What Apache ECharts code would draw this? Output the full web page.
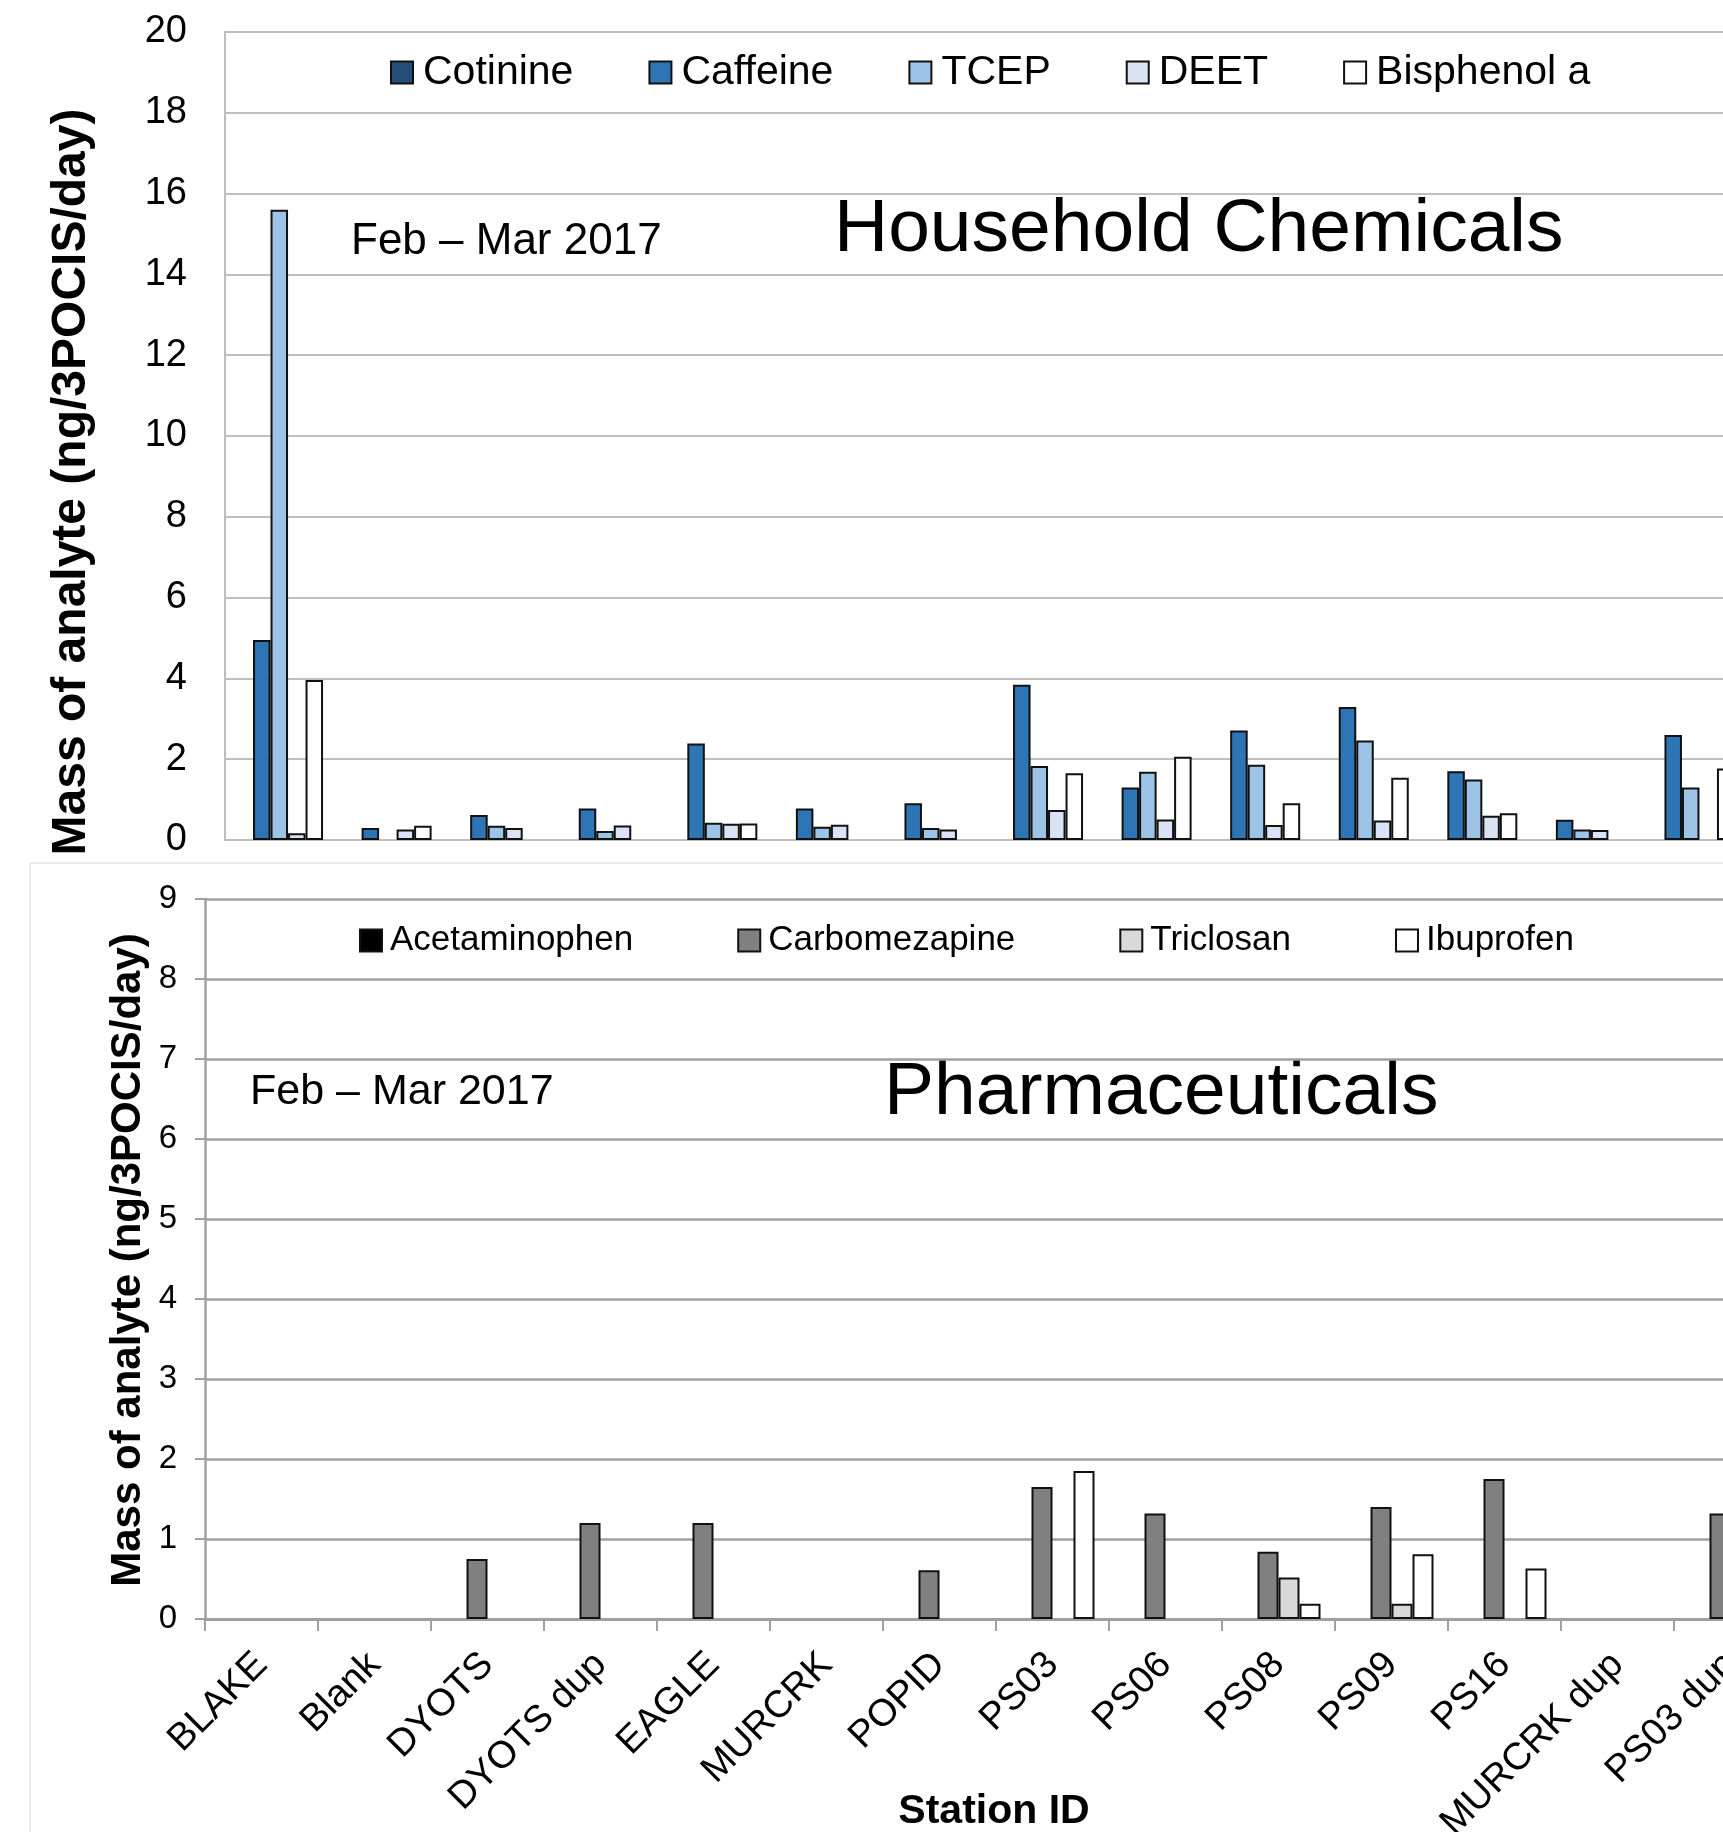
<!DOCTYPE html>
<html>
<head>
<meta charset="utf-8">
<title>Household Chemicals and Pharmaceuticals</title>
<script src="https://cdn.jsdelivr.net/npm/echarts@6/dist/echarts.min.js"></script>
<style>
  html, body { margin: 0; padding: 0; background: #ffffff; overflow: hidden; }
  #frame { width: 1723px; height: 1832px; overflow: hidden; position: relative; }
  #chart { width: 1800px; height: 1832px; position: absolute; left: 0; top: 0; }
</style>
</head>
<body>
<div id="frame"><div id="chart"></div></div>
<script>
// Station IDs (shared by both panels)
const categories = ['BLAKE', 'Blank', 'DYOTS', 'DYOTS dup', 'EAGLE', 'MURCRK', 'POPID',
  'PS03', 'PS06', 'PS08', 'PS09', 'PS16', 'MURCRK dup', 'PS03 dup'];

// Household chemicals, ng/3POCIS/day (null = not detected)
const cotinine   = [null, null, null, null, null, null, null, null, null, null, null, null, null, null];
const caffeine   = [4.95, 0.30, 0.62, 0.78, 2.39, 0.78, 0.91, 3.84, 1.30, 2.71, 3.29, 1.70, 0.50, 2.60];
const tcep       = [15.6, null, 0.35, 0.22, 0.43, 0.33, 0.30, 1.83, 1.69, 1.86, 2.46, 1.50, 0.26, 1.30];
const deet       = [0.17, 0.26, 0.30, 0.36, 0.40, 0.38, 0.26, 0.74, 0.51, 0.37, 0.48, 0.60, 0.25, null];
const bisphenolA = [3.96, 0.35, null, null, 0.41, null, null, 1.65, 2.06, 0.91, 1.54, 0.66, null, 1.77];

// Pharmaceuticals, ng/3POCIS/day (null = not detected)
const acetaminophen = [null, null, null, null, null, null, null, null, null, null, null, null, null, null];
const carbomezapine = [null, null, 0.75, 1.20, 1.20, null, 0.61, 1.65, 1.32, 0.84, 1.40, 1.75, null, 1.32];
const triclosan     = [null, null, null, null, null, null, null, null, null, 0.52, 0.19, null, null, null];
const ibuprofen     = [null, null, null, null, null, null, null, 1.85, null, 0.19, 0.81, 0.63, null, null];

// Axis tick values
const householdTicks = [0, 2, 4, 6, 8, 10, 12, 14, 16, 18, 20];
const pharmaTicks = [0, 1, 2, 3, 4, 5, 6, 7, 8, 9];

const FONT = '"Liberation Sans", Arial, Helvetica, sans-serif';

const chart = echarts.init(document.getElementById('chart'), null, { renderer: 'canvas' });

function barSeries(name, data, color, gridIdx, width) {
  return {
    name: name,
    type: 'bar',
    xAxisIndex: gridIdx,
    yAxisIndex: gridIdx,
    data: data,
    barWidth: width,
    barGap: '0%',
    itemStyle: { color: color, borderColor: '#111111', borderWidth: 2 },
    emphasis: { disabled: true },
    animation: false
  };
}

const option = {
  backgroundColor: '#ffffff',
  animation: false,
  legend: [
    {
      data: ['Cotinine', 'Caffeine', 'TCEP', 'DEET', 'Bisphenol a'],
      left: 390, top: 52, padding: 0,
      itemWidth: 22, itemHeight: 22, itemGap: 75, icon: 'rect',
      textStyle: { fontFamily: FONT, fontSize: 41, color: '#000', padding: [0, 0, 0, 5] },
      selectedMode: false
    },
    {
      data: ['Acetaminophen', 'Carbomezapine', 'Triclosan', 'Ibuprofen'],
      left: 359, top: 923, padding: 0,
      itemWidth: 22, itemHeight: 22, itemGap: 104, icon: 'rect',
      textStyle: { fontFamily: FONT, fontSize: 35, color: '#000', padding: [0, 0, 0, 3] },
      selectedMode: false
    }
  ],
  grid: [
    { left: 225, top: 32, width: 1520, height: 808, containLabel: false, outerBoundsMode: 'none' },
    { left: 205, top: 899, width: 1582, height: 720, containLabel: false, outerBoundsMode: 'none' }
  ],
  xAxis: [
    {
      type: 'category', gridIndex: 0, data: categories,
      axisLine: { show: true, lineStyle: { color: '#BFBFBF', width: 2 } },
      axisTick: { show: false },
      axisLabel: { show: false }
    },
    {
      type: 'category', gridIndex: 1, data: categories,
      axisLine: { show: true, lineStyle: { color: '#A0A0A0', width: 3 } },
      axisTick: { show: true, alignWithLabel: false, length: 12, lineStyle: { color: '#A0A0A0', width: 2 } },
      axisLabel: {
        interval: 0, rotate: 45, margin: 40,
        fontFamily: FONT, fontSize: 38, color: '#000'
      }
    }
  ],
  yAxis: [
    {
      type: 'value', gridIndex: 0,
      min: householdTicks[0], max: householdTicks[householdTicks.length - 1], interval: 2,
      axisLine: { show: true, lineStyle: { color: '#BFBFBF', width: 2 } },
      axisTick: { show: false },
      splitLine: { show: true, lineStyle: { color: '#BFBFBF', width: 2 } },
      axisLabel: { margin: 38, fontFamily: FONT, fontSize: 38, color: '#000' }
    },
    {
      type: 'value', gridIndex: 1,
      min: pharmaTicks[0], max: pharmaTicks[pharmaTicks.length - 1], interval: 1,
      axisLine: { show: true, lineStyle: { color: '#A0A0A0', width: 2.5 } },
      axisTick: { show: true, inside: false, length: 10, lineStyle: { color: '#A0A0A0', width: 2 } },
      splitLine: { show: true, lineStyle: { color: '#A0A0A0', width: 2.5 } },
      axisLabel: { margin: 28, fontFamily: FONT, fontSize: 33, color: '#000' }
    }
  ],
  graphic: [
    {
      type: 'rect', z: -10, silent: true,
      shape: { x: 30, y: 863, width: 1800, height: 1000 },
      style: { fill: 'none', stroke: '#E4E4E4', lineWidth: 1.5 }
    },
    {
      type: 'text', x: 351, y: 242, silent: true,
      style: { text: 'Feb \u2013 Mar 2017', font: 'normal 44px ' + FONT, fill: '#000',
               textAlign: 'left', textVerticalAlign: 'middle' }
    },
    {
      type: 'text', x: 834, y: 230, silent: true,
      style: { text: 'Household Chemicals', font: 'normal 75px ' + FONT, fill: '#000',
               textAlign: 'left', textVerticalAlign: 'middle' }
    },
    {
      type: 'text', x: 250, y: 1092, silent: true,
      style: { text: 'Feb \u2013 Mar 2017', font: 'normal 43px ' + FONT, fill: '#000',
               textAlign: 'left', textVerticalAlign: 'middle' }
    },
    {
      type: 'text', x: 884, y: 1093, silent: true,
      style: { text: 'Pharmaceuticals', font: 'normal 75px ' + FONT, fill: '#000',
               textAlign: 'left', textVerticalAlign: 'middle' }
    },
    {
      type: 'text', x: 72, y: 482, rotation: Math.PI / 2, silent: true,
      style: { text: 'Mass of analyte (ng/3POCIS/day)', font: 'bold 48px ' + FONT, fill: '#000',
               textAlign: 'center', textVerticalAlign: 'middle' }
    },
    {
      type: 'text', x: 128, y: 1260, rotation: Math.PI / 2, silent: true,
      style: { text: 'Mass of analyte (ng/3POCIS/day)', font: 'bold 42px ' + FONT, fill: '#000',
               textAlign: 'center', textVerticalAlign: 'middle' }
    },
    {
      type: 'text', x: 994, y: 1812, silent: true,
      style: { text: 'Station ID', font: 'bold 41px ' + FONT, fill: '#000',
               textAlign: 'center', textVerticalAlign: 'middle' }
    }
  ],
  series: [
    barSeries('Cotinine', cotinine, '#234E7A', 0, 17.5),
    barSeries('Caffeine', caffeine, '#2E75B6', 0, 17.5),
    barSeries('TCEP', tcep, '#9DC3E6', 0, 17.5),
    barSeries('DEET', deet, '#DAE3F3', 0, 17.5),
    barSeries('Bisphenol a', bisphenolA, '#FFFFFF', 0, 17.5),
    barSeries('Acetaminophen', acetaminophen, '#000000', 1, 21),
    barSeries('Carbomezapine', carbomezapine, '#808080', 1, 21),
    barSeries('Triclosan', triclosan, '#D9D9D9', 1, 21),
    barSeries('Ibuprofen', ibuprofen, '#FFFFFF', 1, 21)
  ]
};

chart.setOption(option);
</script>
</body>
</html>
